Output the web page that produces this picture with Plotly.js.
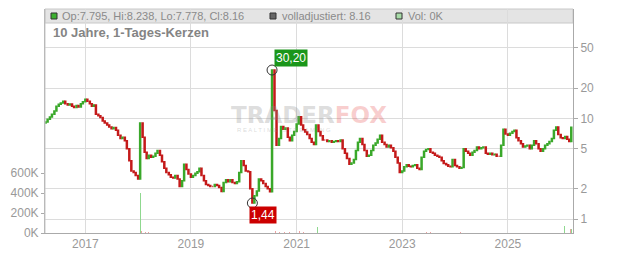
<!DOCTYPE html>
<html><head><meta charset="utf-8">
<script src="https://cdn.plot.ly/plotly-3.0.1.min.js"></script>
<style>html,body{margin:0;padding:0;background:#fff}#chart{width:632px;height:253px}</style>
</head><body><div id="chart"></div>
<script>
// Semi-monthly closes (1st and 15th of each month), Apr 2016 .. Mar 2026
const startYear = 2016, startMonth = 4;
const closes = [
  // 2016 (Apr-Dec)
  9.2, 9.8, 10.3, 11.0, 11.8, 13.2, 13.8, 14.2, 14.8, 14.0, 13.6, 13.9, 13.2, 12.8, 13.4, 13.0, 14.0, 14.6,
  // 2017
  15.5, 14.8, 14.0, 13.2, 13.6, 11.0, 10.6, 10.2, 9.4, 9.0, 8.6, 8.2, 7.9, 8.1, 7.6, 6.8, 6.3, 6.5, 6.0, 5.0, 3.8, 3.0, 2.9, 2.7,
  // 2018
  2.5, 9.0, 6.5, 4.6, 4.0, 4.3, 4.1, 4.2, 4.5, 4.8, 4.3, 3.7, 3.2, 2.9, 2.75, 2.6, 2.55, 2.7, 2.5, 2.1, 2.4, 3.5, 3.1, 2.8,
  // 2019
  2.6, 2.7, 2.85, 2.95, 3.2, 2.7, 2.4, 2.2, 2.15, 2.1, 2.1, 2.2, 2.15, 2.05, 1.88, 2.3, 2.45, 2.35, 2.45, 2.3, 2.25, 2.35, 2.9, 3.8,
  // 2020
  3.4, 3.0, 2.95, 2.0, 1.44, 1.7, 1.9, 2.5, 2.4, 2.25, 2.1, 2.0, 1.87, 30.2, 12.0, 5.4, 6.3, 8.3, 7.8, 8.0, 6.5, 6.0, 6.8, 7.4,
  // 2021
  8.8, 10.4, 8.6, 7.7, 7.3, 6.9, 6.3, 5.8, 5.5, 8.6, 7.4, 6.7, 6.1, 6.1, 5.9, 6.0, 5.8, 5.9, 6.0, 5.9, 6.1, 5.0, 4.5, 4.0,
  // 2022
  3.5, 3.6, 3.9, 4.8, 5.8, 6.3, 5.5, 4.8, 4.2, 4.3, 4.8, 5.4, 5.7, 6.2, 6.8, 5.8, 5.5, 5.2, 5.4, 5.1, 4.7, 4.1, 3.6, 2.9,
  // 2023
  3.0, 3.3, 3.45, 3.35, 3.3, 3.4, 3.45, 3.2, 3.1, 4.1, 4.7, 4.9, 5.0, 4.6, 4.5, 4.3, 4.2, 4.1, 3.8, 3.55, 3.45, 3.35, 3.3, 3.9,
  // 2024
  3.4, 3.3, 3.2, 3.25, 5.0, 4.7, 4.5, 4.3, 4.6, 4.8, 5.2, 5.0, 5.1, 5.2, 4.5, 4.4, 4.5, 4.35, 4.4, 4.2, 4.2, 5.4, 7.8, 7.0,
  // 2025
  6.8, 7.1, 7.4, 7.6, 6.4, 6.0, 5.6, 5.2, 5.3, 5.4, 5.0, 5.4, 6.0, 5.6, 5.0, 4.7, 5.0, 5.4, 5.6, 5.9, 6.3, 7.6, 8.2, 6.9,
  // 2026 (Jan-Mar)
  6.4, 6.3, 6.6, 6.2, 5.9, 8.16
];
const firstOpen = 9.0;

const volUpDates = ['2018-01-15', '2020-07-15', '2021-05-25', '2021-10-01', '2022-03-01', '2026-01-25', '2026-03-18'];
const volUpValues = [400000, 100000, 60000, 8000, 6000, 70000, 40000];
const volDownDates = ['2018-01-25', '2018-02-20', '2018-03-15', '2020-08-10', '2020-09-05', '2020-10-10', '2020-11-15', '2020-12-20', '2021-01-20', '2021-02-15', '2023-06-20', '2023-07-15', '2024-02-10', '2026-03-10'];
const volDownValues = [25000, 12000, 8000, 20000, 12000, 10000, 15000, 22000, 18000, 10000, 10000, 10000, 8000, 40000];

const priceTicks = [1, 2, 5, 10, 20, 50];
const volTicks = [0, 200000, 400000, 600000];
const volTickLabels = ['0K', '200K', '400K', '600K'];
const yearTicks = ['2017', '2019', '2021', '2023', '2025'];

const highPoint = {date: '2020-07-15', value: 30.2, label: '30,20'};
const lowPoint = {date: '2020-03-01', value: 1.44, label: '1,44'};

const legendOHLC = 'Op:7.795, Hi:8.238, Lo:7.778, Cl:8.16';
const legendAdj = 'volladjustiert: 8.16';
const legendVol = 'Vol: 0K';
const chartTitle = '10 Jahre, 1-Tages-Kerzen';

// build dates grid
const dates = [];
for (let i = 0; i < closes.length; i++) {
  const mIdx = (startMonth - 1) + Math.floor(i / 2);
  const y = startYear + Math.floor(mIdx / 12);
  const m = (mIdx % 12) + 1;
  const d = (i % 2 === 0) ? '01' : '15';
  dates.push(y + '-' + String(m).padStart(2, '0') + '-' + d);
}
const opens = closes.map((c, i) => i === 0 ? firstOpen : closes[i - 1]);
const highs = closes.map((c, i) => Math.max(c, opens[i]));
const lows = closes.map((c, i) => Math.min(c, opens[i]));

const GREEN = '#3aa82a', RED = '#c41a1a';
const FONT = 'Liberation Sans, Arial, sans-serif';
const px2px = (px) => (px - 45) / 528;   // paper x
const py2py = (py) => (233 - py) / 224;  // paper y

const traces = [
  {type: 'bar', x: volUpDates, y: volUpValues, yaxis: 'y2', marker: {color: '#8fd88f', line: {width: 0}}, width: 5 * 86400000, hoverinfo: 'skip'},
  {type: 'bar', x: volDownDates, y: volDownValues, yaxis: 'y2', marker: {color: '#eea0a0', line: {width: 0}}, width: 5 * 86400000, hoverinfo: 'skip'},
  {type: 'candlestick', x: dates, open: opens, high: highs, low: lows, close: closes, yaxis: 'y',
   increasing: {line: {color: GREEN, width: 1.5}, fillcolor: GREEN},
   decreasing: {line: {color: RED, width: 1.5}, fillcolor: RED}, whiskerwidth: 0, hoverinfo: 'skip'},
  {type: 'scatter', mode: 'markers', x: [highPoint.date, lowPoint.date], y: [highPoint.value, lowPoint.value], yaxis: 'y',
   marker: {symbol: 'circle-open', size: 10, color: '#333', line: {width: 1, color: '#333'}}, hoverinfo: 'skip'}
];

const layout = {
  width: 632, height: 253,
  margin: {l: 45, r: 59, t: 9, b: 20},
  paper_bgcolor: '#fff', plot_bgcolor: 'rgba(0,0,0,0)',
  showlegend: false, bargap: 0,
  font: {family: FONT, size: 12, color: '#999'},
  xaxis: {
    type: 'date', range: ['2016-03-28', '2026-03-27'],
    tickvals: yearTicks.map(y => y + '-01-01'), ticktext: yearTicks,
    showgrid: true, gridcolor: '#dcdcdc', gridwidth: 1,
    showline: true, linecolor: '#aaa', linewidth: 1, ticks: '',
    tickfont: {size: 12, color: '#999'}, rangeslider: {visible: false}, fixedrange: true
  },
  yaxis: {
    type: 'log', side: 'right', range: [Math.log10(0.726), Math.log10(122)],
    tickvals: priceTicks, ticktext: priceTicks.map(String),
    showgrid: true, gridcolor: '#dcdcdc', gridwidth: 1,
    showline: true, linecolor: '#aaa', ticks: 'outside', ticklen: 4, tickcolor: '#aaa',
    tickfont: {size: 12, color: '#999'}, zeroline: false
  },
  yaxis2: {
    overlaying: 'y', side: 'left', range: [0, 2240000],
    tickvals: volTicks, ticktext: volTickLabels,
    showgrid: false, showline: true, linecolor: '#aaa', ticks: 'outside', ticklen: 3, tickcolor: '#aaa',
    tickfont: {size: 12, color: '#999'}, zeroline: false
  },
  shapes: [
    {type: 'rect', xref: 'paper', yref: 'paper', x0: 0, x1: 1, y0: py2py(23), y1: 1, fillcolor: '#e4e4e4', line: {color: '#c8c8c8', width: 1}, layer: 'below'},
    {type: 'line', xref: 'paper', yref: 'paper', x0: 0, x1: 0, y0: 0, y1: 1, line: {color: '#c8c8c8', width: 1}},
    {type: 'rect', xref: 'paper', yref: 'paper', x0: px2px(51), x1: px2px(57), y0: py2py(19), y1: py2py(13), fillcolor: '#3cb030', line: {color: '#333', width: 1}},
    {type: 'rect', xref: 'paper', yref: 'paper', x0: px2px(270), x1: px2px(276), y0: py2py(19), y1: py2py(13), fillcolor: '#666', line: {color: '#333', width: 1}},
    {type: 'rect', xref: 'paper', yref: 'paper', x0: px2px(396), x1: px2px(402), y0: py2py(19), y1: py2py(13), fillcolor: '#a8dca8', line: {color: '#333', width: 1}}
  ],
  annotations: [
    {xref: 'paper', yref: 'paper', x: px2px(60), y: py2py(16), xanchor: 'left', yanchor: 'middle', showarrow: false, text: legendOHLC, font: {size: 11, color: '#8a8a8a', family: FONT}},
    {xref: 'paper', yref: 'paper', x: px2px(280), y: py2py(16), xanchor: 'left', yanchor: 'middle', showarrow: false, text: legendAdj, font: {size: 11, color: '#8a8a8a', family: FONT}},
    {xref: 'paper', yref: 'paper', x: px2px(406), y: py2py(16), xanchor: 'left', yanchor: 'middle', showarrow: false, text: legendVol, font: {size: 11, color: '#8a8a8a', family: FONT}},
    {xref: 'paper', yref: 'paper', x: px2px(51), y: py2py(33), xanchor: 'left', yanchor: 'middle', showarrow: false, text: '<b>' + chartTitle + '</b>', font: {size: 13, color: '#848484', family: FONT}},
    {xref: 'paper', yref: 'paper', x: px2px(309), y: py2py(115), xanchor: 'center', yanchor: 'middle', showarrow: false,
     text: '<b><span style="color:rgba(140,140,140,0.3)">TRADER</span><span style="color:rgba(230,60,60,0.25)">FOX</span></b>', font: {size: 23, family: 'DejaVu Sans, sans-serif'}},
    {xref: 'paper', yref: 'paper', x: px2px(284), y: py2py(130), xanchor: 'center', yanchor: 'middle', showarrow: false,
     text: 'R E A L T I M E   S T R E A M I N G', font: {size: 6, color: 'rgba(150,150,150,0.35)', family: FONT}},
    {x: highPoint.date, y: Math.log10(highPoint.value), xref: 'x', yref: 'y', xanchor: 'left', yanchor: 'bottom', xshift: 2, yshift: 3, showarrow: false,
     text: highPoint.label, bgcolor: '#1a961a', borderpad: 1, font: {size: 12, color: '#fff', family: FONT}},
    {x: lowPoint.date, y: Math.log10(lowPoint.value), xref: 'x', yref: 'y', xanchor: 'left', yanchor: 'top', xshift: -3, yshift: -3, showarrow: false,
     text: lowPoint.label, bgcolor: '#cc0000', borderpad: 1, font: {size: 12, color: '#fff', family: FONT}}
  ]
};

Plotly.newPlot('chart', traces, layout, {staticPlot: true, displayModeBar: false});
</script></body></html>
